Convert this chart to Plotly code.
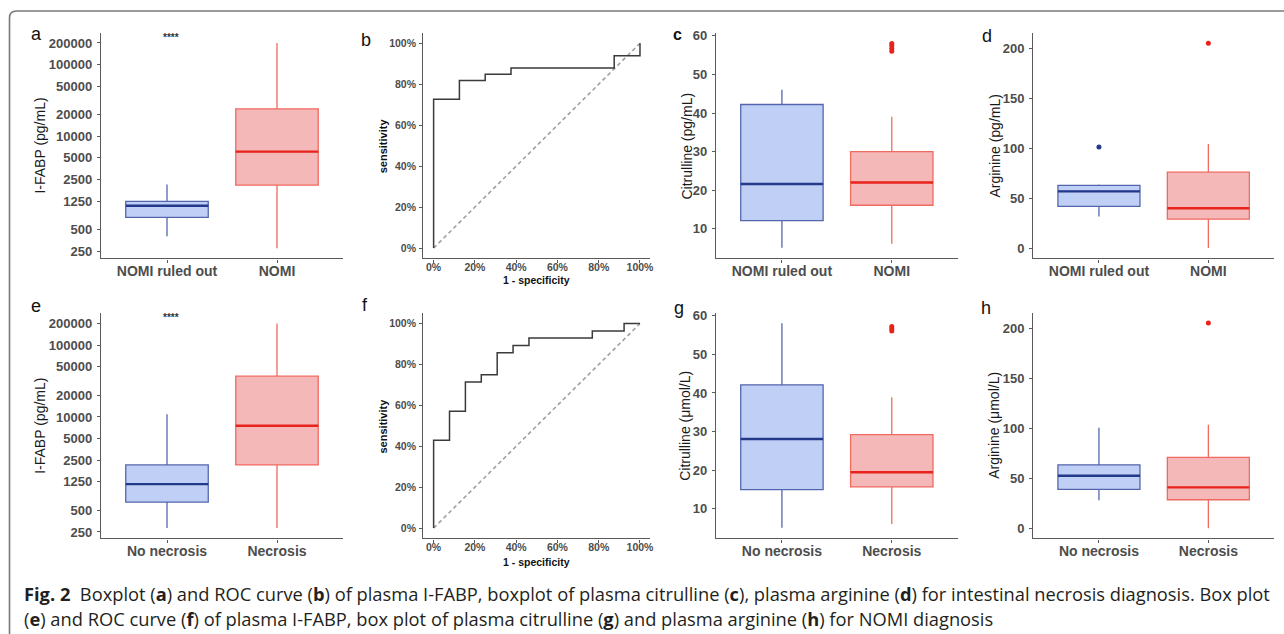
import plotly.graph_objects as go

W, H = 1284, 634

# ---------------- data ----------------
groups_top = ["NOMI ruled out", "NOMI"]
groups_bottom = ["No necrosis", "Necrosis"]

# panel a: I-FABP (pg/mL), NOMI ruled out vs NOMI
a_lower = [404, 275]
a_q1 = [741, 2090]
a_med = [1079, 6120]
a_q3 = [1237, 24200]
a_upper = [2132, 200000]

# panel e: I-FABP (pg/mL), No necrosis vs Necrosis
e_lower = [284, 284]
e_q1 = [653, 2150]
e_med = [1161, 7560]
e_q3 = [2150, 37000]
e_upper = [10900, 200000]

# panel c: Citrulline (pg/mL)
c_lower = [5.1, 6.1]
c_q1 = [12.1, 16.1]
c_med = [21.6, 22.0]
c_q3 = [42.2, 30.0]
c_upper = [46.0, 39.0]
c_out_group2 = [56.0, 56.7, 57.4, 58.0]

# panel g: Citrulline (umol/L)
g_lower = [5.1, 6.1]
g_q1 = [15.0, 15.7]
g_med = [28.1, 19.5]
g_q3 = [42.1, 29.2]
g_upper = [58.0, 38.9]
g_out_group2 = [56.0, 56.6, 57.2]

# panel d: Arginine (pg/mL)
d_lower = [31.5, 0.0]
d_q1 = [41.8, 28.9]
d_med = [56.7, 39.8]
d_q3 = [62.7, 76.0]
d_upper = [63.7, 104.2]
d_out_group1 = [101.2]
d_out_group2 = [205.0]

# panel h: Arginine (umol/L)
h_lower = [28.0, 0.0]
h_q1 = [39.0, 28.6]
h_med = [52.6, 41.0]
h_q3 = [63.6, 71.0]
h_upper = [100.6, 103.6]
h_out_group2 = [205.6]

# ROC curves (corner points of step curves)
b_fpr = [0, 0.125, 0.25, 0.375, 0.875, 1.0, 1.0]
b_tpr = [0, 0.727, 0.818, 0.848, 0.879, 0.939, 1.0]
f_fpr = [0, 0.077, 0.154, 0.231, 0.308, 0.385, 0.462, 0.769, 0.923, 1.0]
f_tpr = [0, 0.429, 0.571, 0.714, 0.750, 0.857, 0.893, 0.929, 0.964, 1.0]

log_ticks = [250, 500, 1250, 2500, 5000, 10000, 20000, 50000, 100000, 200000]
roc_ticks = [0, 0.2, 0.4, 0.6, 0.8, 1.0]

caption1 = ("<b>Fig. 2</b>  Boxplot (<b>a</b>) and ROC curve (<b>b</b>) of plasma I-FABP, boxplot of plasma "
            "citrulline (<b>c</b>), plasma arginine (<b>d</b>) for intestinal necrosis diagnosis. Box plot")
caption2 = ("(<b>e</b>) and ROC curve (<b>f</b>) of plasma I-FABP, box plot of plasma citrulline (<b>g</b>) "
            "and plasma arginine (<b>h</b>) for NOMI diagnosis")

# ---------------- style ----------------
FONT = "Liberation Sans, Arial, sans-serif"
CAPFONT = "Open Sans, Noto Sans, sans-serif"
BLUE_FILL = "#c0cff5"
BLUE_LINE = "#5366ad"
BLUE_MED = "#23398a"
RED_FILL = "#f4b8b8"
RED_LINE = "#f06a60"
RED_MED = "#e8231c"
AXIS = "#5a5a5a"
TICKTXT = "#4d4d4d"
BOXW = 0.75


def px_x(p):
    return p / W


def px_y(p):
    return 1 - p / H


fig = go.Figure()

panels = {
    1: ((101, 343), (33, 258.3)),
    2: ((423.3, 650.3), (33, 258.3)),
    3: ((716, 957.7), (33.3, 258.3)),
    4: ((1033.3, 1274), (33, 258.3)),
    5: ((101, 343), (313.3, 538.3)),
    6: ((423.3, 650.3), (313.3, 538.3)),
    7: ((716, 957.7), (313.3, 538.3)),
    8: ((1033.3, 1274), (313.3, 538.3)),
}


def ax_name(i, letter):
    return f"{letter}axis" if i == 1 else f"{letter}axis{i}"


def ref(i, letter):
    return letter if i == 1 else f"{letter}{i}"


def add_boxes(i, cats, lower, q1, med, q3, upper):
    fills = [BLUE_FILL, RED_FILL]
    lines = [BLUE_LINE, RED_LINE]
    meds = [BLUE_MED, RED_MED]
    for k in range(len(cats)):
        fig.add_trace(go.Box(
            x=[k], lowerfence=[lower[k]], q1=[q1[k]], median=[med[k]], q3=[q3[k]],
            upperfence=[upper[k]], width=BOXW, whiskerwidth=0,
            fillcolor=fills[k], line=dict(color=lines[k], width=1.3),
            xaxis=ref(i, "x"), yaxis=ref(i, "y"), hoverinfo="skip"))
        fig.add_trace(go.Scatter(
            x=[k - BOXW / 2, k + BOXW / 2], y=[med[k], med[k]], mode="lines",
            line=dict(color=meds[k], width=2.4),
            xaxis=ref(i, "x"), yaxis=ref(i, "y"), hoverinfo="skip"))


def add_outliers(i, k, vals, color):
    fig.add_trace(go.Scatter(
        x=[k] * len(vals), y=vals, mode="markers",
        marker=dict(color=color, size=5, line=dict(width=0)),
        xaxis=ref(i, "x"), yaxis=ref(i, "y"), hoverinfo="skip"))


def add_roc(i, fpr, tpr):
    fig.add_trace(go.Scatter(
        x=[0, 1], y=[0, 1], mode="lines",
        line=dict(color="#a0a0a0", width=1.6, dash="4px,3px"),
        xaxis=ref(i, "x"), yaxis=ref(i, "y"), hoverinfo="skip"))
    fig.add_trace(go.Scatter(
        x=fpr, y=tpr, mode="lines", line=dict(color="#3a3a3a", width=1.5, shape="vh"),
        xaxis=ref(i, "x"), yaxis=ref(i, "y"), hoverinfo="skip"))


add_boxes(1, groups_top, a_lower, a_q1, a_med, a_q3, a_upper)
add_roc(2, b_fpr, b_tpr)
add_boxes(3, groups_top, c_lower, c_q1, c_med, c_q3, c_upper)
add_outliers(3, 1, c_out_group2, RED_MED)
add_boxes(4, groups_top, d_lower, d_q1, d_med, d_q3, d_upper)
add_outliers(4, 0, d_out_group1, BLUE_MED)
add_outliers(4, 1, d_out_group2, RED_MED)
add_boxes(5, groups_bottom, e_lower, e_q1, e_med, e_q3, e_upper)
add_roc(6, f_fpr, f_tpr)
add_boxes(7, groups_bottom, g_lower, g_q1, g_med, g_q3, g_upper)
add_outliers(7, 1, g_out_group2, RED_MED)
add_boxes(8, groups_bottom, h_lower, h_q1, h_med, h_q3, h_upper)
add_outliers(8, 1, h_out_group2, RED_MED)

layout = dict(
    width=W, height=H, margin=dict(l=0, r=0, t=0, b=0),
    paper_bgcolor="white", plot_bgcolor="white", showlegend=False,
    font=dict(family=FONT, color="#222222"),
)

common = dict(showline=True, linecolor=AXIS, linewidth=1.4, ticks="outside", ticklen=3,
              tickwidth=1.1, tickcolor=AXIS, showgrid=False, zeroline=False, automargin=False)

y_ranges = {1: [2.30, 5.44], 3: [2.35, 60.65], 4: [-10.25, 215.25],
            5: [2.31, 5.444], 7: [2.4, 60.6], 8: [-10, 215.3]}

for i, ((x0, x1), (y0, y1)) in panels.items():
    xa = dict(common, domain=[px_x(x0), px_x(x1)], anchor=ref(i, "y"))
    ya = dict(common, domain=[px_y(y1), px_y(y0)], anchor=ref(i, "x"))
    if i in (2, 6):
        xa.update(range=[-0.05, 1.05], tickvals=roc_ticks, tickformat=".0%",
                  ticklabelstandoff=-4,
                  tickfont=dict(size=10.5, color=TICKTXT, weight="bold"))
        ya.update(range=[-0.05, 1.05], tickvals=roc_ticks, tickformat=".0%",
                  ticklabelstandoff=1,
                  tickfont=dict(size=10.5, color=TICKTXT, weight="bold"))
    else:
        cats = groups_top if i <= 4 else groups_bottom
        xa.update(range=[-0.6, 1.6], tickvals=[0, 1], ticktext=cats, ticklabelstandoff=-3,
                  tickfont=dict(size=14, color=TICKTXT, weight="bold"))
        ya.update(range=y_ranges[i], ticklabelstandoff=2,
                  tickfont=dict(size=13, color=TICKTXT, weight="bold"))
        if i in (1, 5):
            ya.update(type="log", tickvals=log_ticks, ticktext=[str(v) for v in log_ticks])
        elif i in (3, 7):
            ya.update(tickvals=[10, 20, 30, 40, 50, 60])
        else:
            ya.update(tickvals=[0, 50, 100, 150, 200])
    layout[ax_name(i, "x")] = xa
    layout[ax_name(i, "y")] = ya

fig.update_layout(**layout)

ann = []


def pa(x, y, text, size, **kw):
    d = dict(x=px_x(x), y=px_y(y), xref="paper", yref="paper", text=text, showarrow=False,
             font=dict(size=size, color=kw.pop("color", "#1a1a1a"), family=kw.pop("family", FONT),
                       weight=kw.pop("weight", "normal")),
             xanchor=kw.pop("xanchor", "center"), yanchor=kw.pop("yanchor", "middle"))
    d.update(kw)
    ann.append(d)


# panel letters
pa(36.7, 33.7, "a", 18, color="#111")
pa(366, 39.7, "b", 18, color="#111")
pa(677, 34.0, "c", 16, color="#111", weight="bold")
pa(987, 36.4, "d", 18, color="#111")
pa(36, 305.7, "e", 18, color="#111")
pa(365, 305.4, "f", 18, color="#111")
pa(679, 307.7, "g", 18, color="#111")
pa(986, 308.0, "h", 18, color="#111")

# axis titles
pa(40, 145.6, "I-FABP (pg/mL)", 14, textangle=-90)
pa(40, 425.8, "I-FABP (pg/mL)", 14, textangle=-90)
pa(686.7, 145.8, "Citrulline (pg/mL)", 14, textangle=-90)
pa(685, 425.8, "Citrulline (μmol/L)", 14, textangle=-90)
pa(995, 145.6, "Arginine (pg/mL)", 14, textangle=-90)
pa(994, 425.8, "Arginine (μmol/L)", 14, textangle=-90)
pa(382.7, 145.6, "sensitivity", 11, textangle=-90, weight="bold", color="#111")
pa(382.7, 425.8, "sensitivity", 11, textangle=-90, weight="bold", color="#111")
pa(536.8, 280, "1 - specificity", 10.5, weight="bold", color="#111")
pa(536.8, 562, "1 - specificity", 10.5, weight="bold", color="#111")

# significance labels
for i, yv in ((1, 5.384), (5, 5.379)):
    ann.append(dict(x=0.04, y=yv, xref=ref(i, "x"), yref=ref(i, "y"), text="****",
                    showarrow=False, font=dict(size=10, color="#333", family=FONT, weight="bold"),
                    xanchor="center", yanchor="middle"))

# caption
pa(22, 593, caption1, 18.3, color="#231f20", xanchor="left", family=CAPFONT)
pa(22, 618, caption2, 18.3, color="#231f20", xanchor="left", family=CAPFONT)

fig.update_layout(annotations=ann)

# figure frame (rounded top-left corner)
xl, yt, r = 9.5, 11, 7
path = (f"M {px_x(xl)},{px_y(H + 5)} L {px_x(xl)},{px_y(yt + r)} "
        f"Q {px_x(xl)},{px_y(yt)} {px_x(xl + r)},{px_y(yt)} L {px_x(W + 5)},{px_y(yt)}")
fig.add_shape(type="path", path=path, xref="paper", yref="paper",
              line=dict(color="#7a7a7a", width=1.6))

fig.write_html("out.html", config={"displayModeBar": False},
               post_script="document.body.style.margin='0px';")
